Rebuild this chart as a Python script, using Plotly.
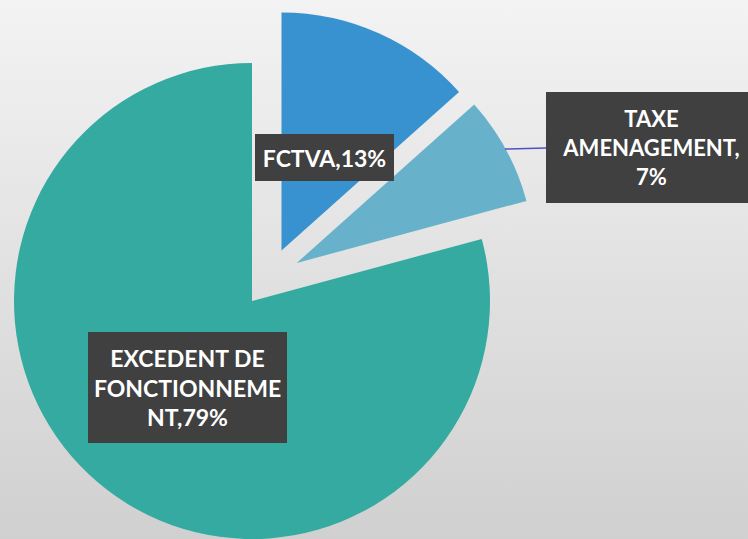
import plotly.graph_objects as go

# ---- data ----
categories = ["FCTVA", "TAXE AMENAGEMENT", "EXCEDENT DE FONCTIONNEMENT"]
values = [13.4, 7.4, 79.2]
label_texts = ["FCTVA,13%", "TAXE<br>AMENAGEMENT,<br>7%", "EXCEDENT DE<br>FONCTIONNEME<br>NT,79%"]
slice_colors = ["#3892d0", "#67b2ca", "#35aaa1"]

W, H = 748, 539
R = 238
# centre (apex) of each drawn slice, in pixels
centers = [(281.5, 250.5), (296.7, 263.0), (252.0, 301.0)]

fig = go.Figure()

# background gradient
fig.add_trace(go.Scatter(
    x=[0, 1, 1, 0, 0], y=[0, 0, 1, 1, 0], mode="lines", fill="toself",
    line=dict(width=0),
    fillgradient=dict(type="vertical", colorscale=[[0, "#d0d0d0"], [1, "#f3f3f3"]]),
    hoverinfo="skip", showlegend=False,
))

for i, (cx, cy) in enumerate(centers):
    cols = ["rgba(0,0,0,0)"] * len(values)
    cols[i] = slice_colors[i]
    fig.add_trace(go.Pie(
        labels=categories, values=values, sort=False, direction="clockwise",
        rotation=0, textinfo="none", showlegend=False,
        marker=dict(colors=cols, line=dict(width=0)),
        domain=dict(x=[(cx - R) / W, (cx + R) / W],
                    y=[max(0, 1 - (cy + R) / H), 1 - (cy - R) / H]),
        hoverinfo="label+percent",
    ))

boxes = [(255, 134, 139, 47), (546, 92, 210, 111), (88, 332, 199, 111)]
sizes = [23, 22, 23]
for txt, (bx, by, bw, bh), fs in zip(label_texts, boxes, sizes):
    fig.add_annotation(
        xref="paper", yref="paper", x=bx / W, y=1 - by / H,
        xanchor="left", yanchor="top", width=bw, height=bh,
        text=txt, showarrow=False, align="center", valign="middle",
        bgcolor="#404040", borderpad=0, borderwidth=0,
        font=dict(family="Lato", size=fs, color="white", weight="bold"),
    )

fig.add_shape(type="line", xref="paper", yref="paper",
              x0=505 / W, y0=1 - 149 / H, x1=546 / W, y1=1 - 148 / H,
              line=dict(color="#5050c8", width=1.5))

fig.update_layout(
    width=W, height=H, margin=dict(l=0, r=0, t=0, b=0),
    paper_bgcolor="#eeeeee", plot_bgcolor="rgba(0,0,0,0)",
    xaxis=dict(visible=False, range=[0, 1], domain=[0, 1], fixedrange=True),
    yaxis=dict(visible=False, range=[0, 1], domain=[0, 1], fixedrange=True),
)

fig.write_html("out.html", config={"displayModeBar": False},
               post_script="document.body.style.margin='0';document.body.style.overflow='hidden';")
